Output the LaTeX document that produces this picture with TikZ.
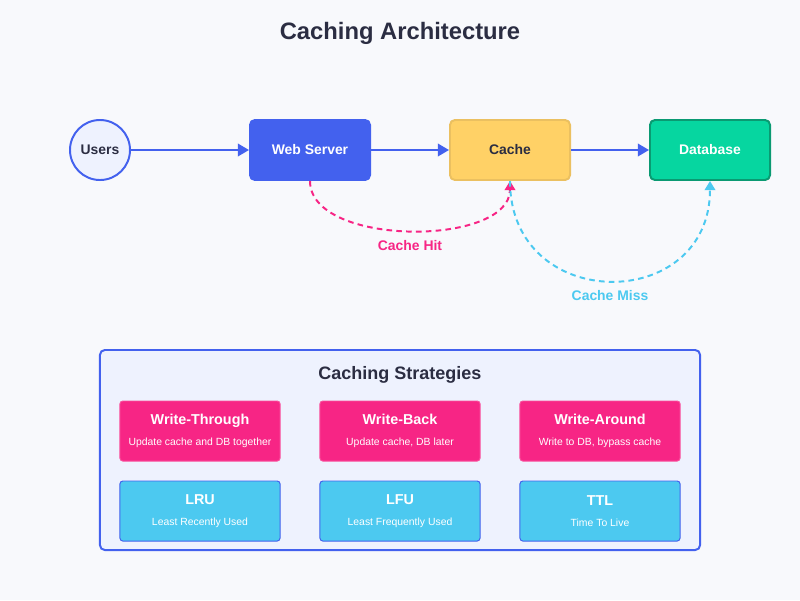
\documentclass[tikz,border=0pt]{standalone}
\usepackage{fontspec}
\setmainfont{Liberation Sans}
\usetikzlibrary{arrows.meta,positioning}
\definecolor{bgColor}{HTML}{F8F9FC}
\definecolor{inkColor}{HTML}{2B2D42}
\definecolor{wsColor}{HTML}{4361EE}
\definecolor{paleColor}{HTML}{EEF2FE}
\definecolor{cacheColor}{HTML}{FFD166}
\definecolor{cacheEdge}{HTML}{EBC060}
\definecolor{dbColor}{HTML}{06D6A0}
\definecolor{dbEdge}{HTML}{0A9A72}
\definecolor{hitColor}{HTML}{F72585}
\definecolor{missColor}{HTML}{4CC9F0}
\newcommand{\stratSub}{\mdseries\fontsize{7.4}{9}\selectfont}
\tikzset{
	comp box/.style={draw, rounded corners=3.5pt, line width=1.4pt, minimum width=3cm, minimum height=1.5cm,
		font=\bfseries\fontsize{9.9}{12}\selectfont},
	users node/.style={circle, draw=wsColor, fill=paleColor, line width=1.4pt, minimum size=1.5cm, inner sep=0pt,
		text=inkColor, font=\bfseries\fontsize{9.9}{12}\selectfont},
	flow/.style={->, draw=wsColor, line width=1.4pt},
	hit/.style={->, draw=hitColor, line width=1.4pt, dash pattern=on 4pt off 3pt, >={Triangle[length=6.5pt,width=7.5pt]}},
	miss/.style={->, draw=missColor, line width=1.4pt, dash pattern=on 4pt off 3pt, >={Triangle[length=6.5pt,width=7.5pt]}},
	strat box/.style={draw, rounded corners=2pt, line width=0.7pt, minimum width=4cm, minimum height=1.5cm,
		text=white, align=center, font=\bfseries\fontsize{10.2}{15}\selectfont}
}

\begin{document}
\begin{tikzpicture}[x=0.025cm, y=-0.025cm, >={Triangle[length=8pt,width=9pt]}]
	\fill[bgColor] (0,0) rectangle (800,600);
	\node[text=inkColor, font=\bfseries\fontsize{16.9}{20}\selectfont] (title) at (400,33) {Caching Architecture};

	\node[users node] at (100,150) (users) {Users};
	\node[comp box, fill=wsColor, draw=wsColor, text=white] at (310,150) (web) {Web Server};
	\node[comp box, fill=cacheColor, draw=cacheEdge, text=inkColor] at (510,150) (cache) {Cache};
	\node[comp box, fill=dbColor, draw=dbEdge, text=white] at (710,150) (db) {Database};

	\path (users) edge[flow] (web);
	\path (web) edge[flow] (cache);
	\path (cache) edge[flow] (db);
	\draw[hit] (web.south) .. controls +(0,66) and +(0,66) .. node[pos=0.5, below=3pt, text=hitColor,
		font=\bfseries\fontsize{9.9}{12}\selectfont] (hitLabel) {Cache Hit} (cache.south);
	\draw[miss] (cache.south) .. controls +(0,133) and +(0,133) .. node[pos=0.5, below=3pt, text=missColor,
		font=\bfseries\fontsize{9.9}{12}\selectfont] (missLabel) {Cache Miss} (db.south);

	% strategies panel
	\node[draw=wsColor, fill=paleColor, line width=1.4pt, rounded corners=3.5pt, minimum width=15cm,
		minimum height=5cm] at (400,450) (panel) {};
	\node[text=inkColor, font=\bfseries\fontsize{12.8}{15}\selectfont] at (400,375) (panelTitle) {Caching Strategies};

	\node[strat box, fill=hitColor, draw=hitColor!80!white] at (200,431) (wthrough) {Write-Through\\[0pt]{\stratSub Update cache and DB together}};
	\node[strat box, fill=hitColor, draw=hitColor!80!white] at (400,431) (wback) {Write-Back\\[0pt]{\stratSub Update cache, DB later}};
	\node[strat box, fill=hitColor, draw=hitColor!80!white] at (600,431) (waround) {Write-Around\\[0pt]{\stratSub Write to DB, bypass cache}};
	\node[strat box, fill=missColor, draw=wsColor] at (200,511) (lru) {LRU\\[0pt]{\stratSub Least Recently Used}};
	\node[strat box, fill=missColor, draw=wsColor] at (400,511) (lfu) {LFU\\[0pt]{\stratSub Least Frequently Used}};
	\node[strat box, fill=missColor, draw=wsColor] at (600,511) (ttl) {TTL\\[0pt]{\stratSub Time To Live}};
\end{tikzpicture}
\end{document}
